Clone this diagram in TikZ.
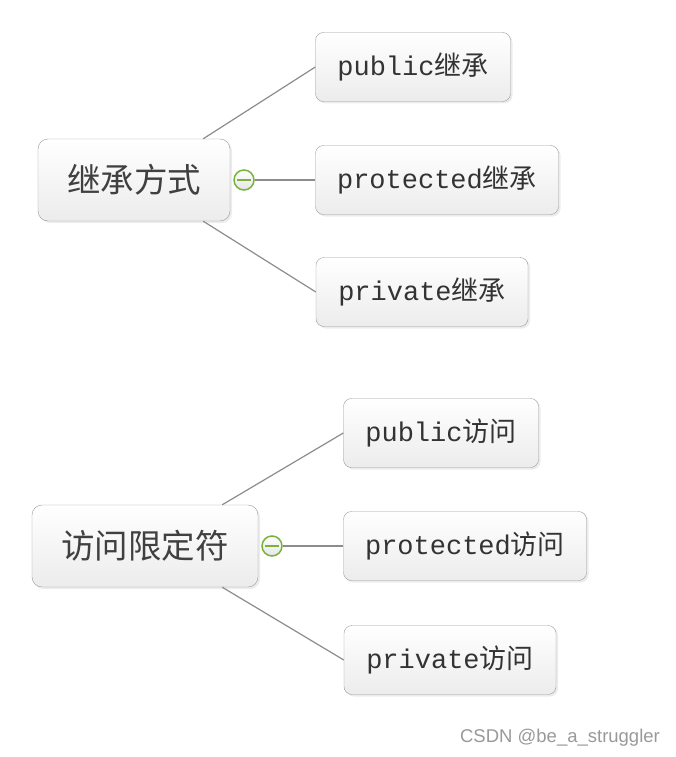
\documentclass[tikz,border=0pt]{standalone}
\usepackage{fontspec}
\setmonofont{Liberation Mono}
\setsansfont{Liberation Sans}
\newfontfamily\cjk{Noto Sans CJK SC}
\usepackage{tikz}
\usetikzlibrary{positioning, calc, shadows}
\definecolor{lineGray}{RGB}{140, 140, 140}
\definecolor{boxGray}{RGB}{155, 155, 155}
\definecolor{togGreen}{RGB}{120, 180, 60}
\newcommand{\mixlabel}[2]{{\ttfamily #1}{\cjk #2}}

\begin{document}
\begin{tikzpicture}[
    x=1pt, y=-1pt,
    root/.style={rectangle, draw=boxGray, top color=white, bottom color=gray!15,
                 rounded corners=10pt, minimum height=82pt, align=center,
                 drop shadow={opacity=0.15, shadow xshift=2pt, shadow yshift=-2pt},
                 font=\fontsize{33.5}{38}\selectfont\cjk, text=black!75},
    leaf/.style={rectangle, draw=boxGray, top color=white, bottom color=gray!15,
                 rounded corners=8pt, minimum height=69pt, align=center,
                 drop shadow={opacity=0.15, shadow xshift=2pt, shadow yshift=-2pt},
                 font=\fontsize{27}{30}\selectfont, text=black!80},
    toggle/.style={circle, draw=togGreen, line width=1.5pt, inner sep=0pt,
                   minimum size=20pt, top color=white, bottom color=gray!20,
                   path picture={\draw[togGreen, line width=1.8pt]
                     ([xshift=-7pt]path picture bounding box.center) --
                     ([xshift=7pt]path picture bounding box.center);}},
    link/.style={draw=lineGray, line width=1.2pt},
  ]
    \useasboundingbox (0,0) rectangle (675,757);

    % 继承方式
    \node[root, minimum width=192pt] (inherit) at (134,180) {继承方式};
    \node[leaf, minimum width=195pt] (inhPub) at (413,67) {\mixlabel{public}{继承}};
    \node[leaf, minimum width=243pt] (inhProt) at (437,180) {\mixlabel{protected}{继承}};
    \node[leaf, minimum width=212pt] (inhPriv) at (422,292) {\mixlabel{private}{继承}};
    \node[toggle] (inhTog) at (244,180) {};

    \draw[link] ([xshift=-27pt]inherit.north east) -- (inhPub.west);
    \draw[link] (inhTog) -- (inhProt);
    \draw[link] ([xshift=-27pt]inherit.south east) -- (inhPriv.west);

    % 访问限定符
    \node[root, minimum width=226pt] (access) at (145,546) {访问限定符};
    \node[leaf, minimum width=195pt] (accPub) at (441,433) {\mixlabel{public}{访问}};
    \node[leaf, minimum width=243pt] (accProt) at (465,546) {\mixlabel{protected}{访问}};
    \node[leaf, minimum width=212pt] (accPriv) at (450,660) {\mixlabel{private}{访问}};
    \node[toggle] (accTog) at (272,546) {};

    \draw[link] ([xshift=-36pt]access.north east) -- (accPub.west);
    \draw[link] (accTog) -- (accProt);
    \draw[link] ([xshift=-36pt]access.south east) -- (accPriv.west);

    \node[font=\fontsize{18.5}{22}\selectfont\sffamily, text=gray!80] (credit) at (560,738) {CSDN @be\_a\_struggler};
  \end{tikzpicture}
\end{document}
